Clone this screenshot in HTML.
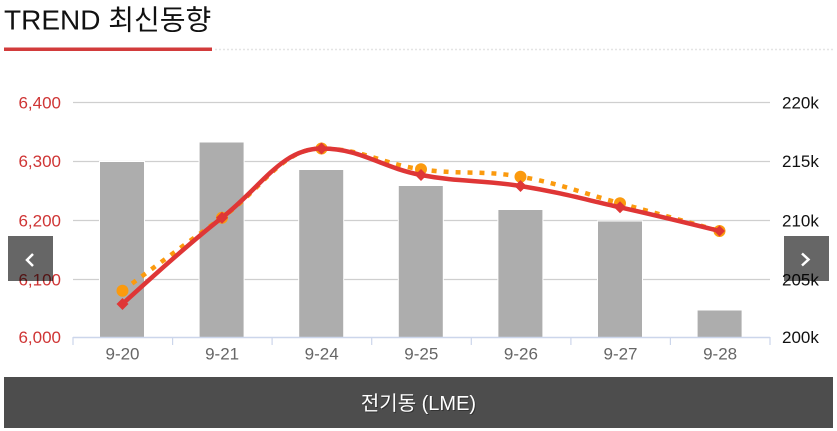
<!DOCTYPE html>
<html><head><meta charset="utf-8"><style>
html,body{margin:0;padding:0;background:#fff;}
body{width:837px;height:431px;overflow:hidden;position:relative;font-family:"Liberation Sans","Noto Sans CJK KR",sans-serif;}
svg{position:absolute;left:0;top:0;}
</style></head><body>
<svg width="837" height="431" viewBox="0 0 837 431" xmlns="http://www.w3.org/2000/svg" font-family="Liberation Sans, Noto Sans CJK KR, sans-serif">
  <!-- title -->
  <text x="4" y="29.5" font-size="28" fill="#111">TREND 최신동향</text>
  <rect x="4" y="47.5" width="208" height="3.5" fill="#d23b3b"/>
  <line x1="215" y1="49.5" x2="833" y2="49.5" stroke="#e4e4e4" stroke-width="1.5" stroke-dasharray="2,2"/>

  <!-- gridlines -->
  <g stroke="#cfcfcf" stroke-width="1.2">
    <line x1="73" y1="102.5" x2="770" y2="102.5"/>
    <line x1="73" y1="161.5" x2="770" y2="161.5"/>
    <line x1="73" y1="220.5" x2="770" y2="220.5"/>
    <line x1="73" y1="279.5" x2="770" y2="279.5"/>
  </g>

  <!-- bars -->
  <g fill="#adadad" stroke="#fff" stroke-width="1">
    <rect x="99.5" y="161.5" width="45" height="176"/>
    <rect x="199.1" y="142" width="45" height="195.5"/>
    <rect x="298.7" y="169.5" width="45" height="168"/>
    <rect x="398.3" y="185.5" width="45" height="152"/>
    <rect x="497.9" y="209.5" width="45" height="128"/>
    <rect x="597.5" y="221" width="45" height="116.5"/>
    <rect x="697.1" y="310" width="45" height="27.5"/>
  </g>

  <!-- x axis -->
  <line x1="73" y1="337.5" x2="770" y2="337.5" stroke="#ccd6eb" stroke-width="1.5"/>
  <g stroke="#ccd6eb" stroke-width="1.2">
    <line x1="73" y1="337" x2="73" y2="345"/>
    <line x1="172.6" y1="337" x2="172.6" y2="345"/>
    <line x1="272.1" y1="337" x2="272.1" y2="345"/>
    <line x1="371.7" y1="337" x2="371.7" y2="345"/>
    <line x1="471.3" y1="337" x2="471.3" y2="345"/>
    <line x1="570.9" y1="337" x2="570.9" y2="345"/>
    <line x1="670.4" y1="337" x2="670.4" y2="345"/>
    <line x1="770" y1="337" x2="770" y2="345"/>
  </g>
  <g font-size="17" fill="#666" text-anchor="middle">
    <text x="122.5" y="359.5">9-20</text>
    <text x="222.1" y="359.5">9-21</text>
    <text x="321.7" y="359.5">9-24</text>
    <text x="421.3" y="359.5">9-25</text>
    <text x="520.9" y="359.5">9-26</text>
    <text x="620.5" y="359.5">9-27</text>
    <text x="720.1" y="359.5">9-28</text>
  </g>

  <!-- left axis labels -->
  <g font-size="17" fill="#cf3535" text-anchor="end">
    <text x="61" y="108.5">6,400</text>
    <text x="61" y="167">6,300</text>
    <text x="61" y="226.5">6,200</text>
    <text x="61" y="285.5">6,100</text>
    <text x="61" y="343">6,000</text>
  </g>
  <!-- right axis labels -->
  <g font-size="17" fill="#111" text-anchor="start">
    <text x="782" y="108.5">220k</text>
    <text x="782" y="167">215k</text>
    <text x="782" y="226.5">210k</text>
    <text x="782" y="285.5">205k</text>
    <text x="782" y="343">200k</text>
  </g>

  <!-- orange dotted series -->
  <path d="M122.5,290.7 C122.5,290.7 182.2,246.14 222,217.7 C261.8,189.26 281.7,148.5 321.5,148.5 C361.3,148.5 381.2,163.66 421,169.3 C460.8,174.94 480.7,169.9 520.5,176.7 C560.3,183.5 580.2,192.44 620,203.3 C659.8,214.16 719.5,231 719.5,231" fill="none" stroke="#fb9a0e" stroke-width="4.5" stroke-dasharray="5,7"/>
  <g fill="#fb9a0e">
    <circle cx="122.5" cy="290.7" r="6"/>
    <circle cx="222" cy="217.7" r="6"/>
    <circle cx="321.5" cy="148.5" r="6"/>
    <circle cx="421" cy="169.3" r="6"/>
    <circle cx="520.5" cy="176.7" r="6"/>
    <circle cx="620" cy="203.3" r="6"/>
    <circle cx="719.5" cy="231" r="6"/>
  </g>

  <!-- red series -->
  <path d="M122.5,304 C122.5,304 182.2,248.8 222,217.7 C261.8,186.6 281.7,148.5 321.5,148.5 C361.3,148.5 381.2,167.5 421,175 C460.8,182.5 480.7,179.54 520.5,186 C560.3,192.46 580.2,198.3 620,207.3 C659.8,216.3 719.5,231 719.5,231" fill="none" stroke="#df3636" stroke-width="4.5"/>
  <g fill="#df3636">
    <polygon points="122.5,298 128.5,304 122.5,310 116.5,304"/>
    <polygon points="222,211.7 228,217.7 222,223.7 216,217.7"/>
    <polygon points="321.5,142.5 327.5,148.5 321.5,154.5 315.5,148.5"/>
    <polygon points="421,169 427,175 421,181 415,175"/>
    <polygon points="520.5,180 526.5,186 520.5,192 514.5,186"/>
    <polygon points="620,201.3 626,207.3 620,213.3 614,207.3"/>
    <polygon points="719.5,225.5 725,231 719.5,236.5 714,231"/>
  </g>

  <!-- nav buttons -->
  <rect x="8" y="236" width="45" height="45" fill="rgba(0,0,0,0.6)"/>
  <polyline points="33,254 27,260 33,266" fill="none" stroke="#fff" stroke-width="2.5"/>
  <rect x="784" y="236" width="45" height="45" fill="rgba(0,0,0,0.6)"/>
  <polyline points="802,253.5 808.5,259.5 802,265.5" fill="none" stroke="#fff" stroke-width="2.5"/>

  <!-- bottom bar -->
  <rect x="4" y="377" width="829" height="51" fill="#4d4d4d"/>
  <text x="418.5" y="410" font-size="20" fill="#000" fill-opacity="0.35" text-anchor="middle" transform="translate(1,1)">전기동 (LME)</text>
  <text x="418.5" y="410" font-size="20" fill="#fff" text-anchor="middle">전기동 (LME)</text>
</svg>
</body></html>
